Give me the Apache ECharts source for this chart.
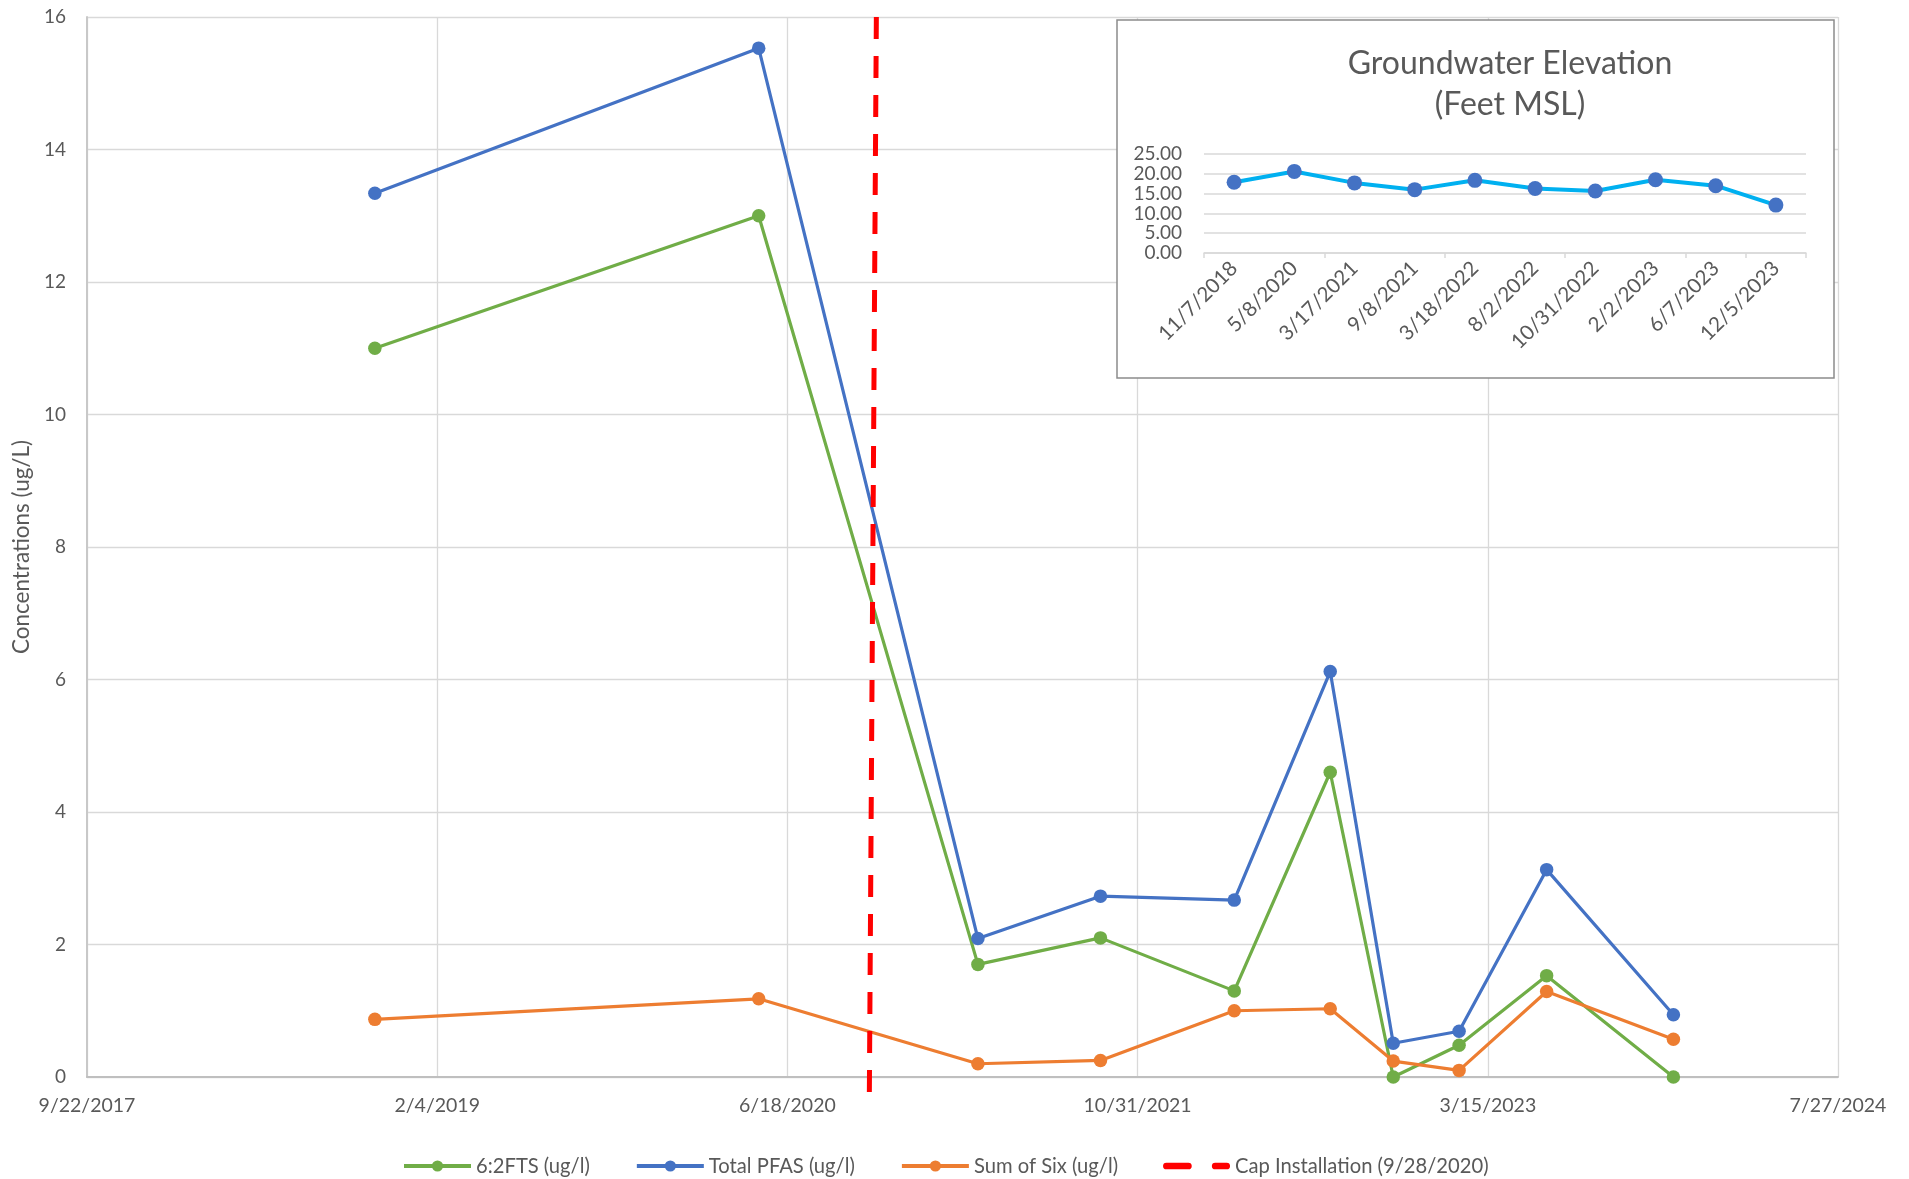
<!DOCTYPE html>
<html>
<head>
<meta charset="utf-8">
<script src="https://cdn.jsdelivr.net/npm/echarts@6/dist/echarts.min.js"></script>
<style>
  html, body { margin: 0; padding: 0; background: #ffffff; }
  #chart { width: 1909px; height: 1179px; }
</style>
</head>
<body>
<div id="chart"></div>
<script>
// ---------- data ----------
const sampleDates = ['11/7/2018','5/8/2020','3/17/2021','9/8/2021','3/18/2022','8/2/2022','10/31/2022','2/2/2023','6/7/2023','12/5/2023'];
const fts62     = [11.0, 13.0, 1.70, 2.10, 1.30, 4.60, 0.00, 0.48, 1.53, 0.00];
const totalPfas = [13.34, 15.53, 2.09, 2.73, 2.67, 6.12, 0.51, 0.69, 3.13, 0.94];
const sumOfSix  = [0.87, 1.18, 0.20, 0.25, 1.00, 1.03, 0.24, 0.10, 1.29, 0.57];
const capDates  = ['10/23/2020', '10/13/2020'];
const capValues = [16, -0.26];
const gwDates   = ['11/7/2018','5/8/2020','3/17/2021','9/8/2021','3/18/2022','8/2/2022','10/31/2022','2/2/2023','6/7/2023','12/5/2023'];
const gwElev    = [17.85, 20.6, 17.7, 16.0, 18.35, 16.3, 15.65, 18.5, 17.0, 12.1];
const xTickMin = 43000, xTickMax = 45500, xTickStep = 500;   // Excel serial dates (9/22/2017 .. 7/27/2024)
const yTicks = { min: 0, max: 16, step: 2 };
const gwTicks = { min: 0, max: 25, step: 5 };
const seriesNames = ['6:2FTS (ug/l)', 'Total PFAS (ug/l)', 'Sum of Six (ug/l)', 'Cap Installation (9/28/2020)'];

// ---------- helpers ----------
const EPOCH = Date.UTC(1899, 11, 30);
function toSerial(s) {
  const [m, d, y] = s.split('/').map(Number);
  return (Date.UTC(y, m - 1, d) - EPOCH) / 864e5;
}
function serialToLabel(v) {
  const d = new Date(EPOCH + v * 864e5);
  return (d.getUTCMonth() + 1) + '/' + d.getUTCDate() + '/' + d.getUTCFullYear();
}
function pairs(dates, vals) { return dates.map((d, i) => [toSerial(d), vals[i]]); }

const FONT = 'Lato';
const TXT = '#595959';
const GRID = '#d9d9d9';

const chart = echarts.init(document.getElementById('chart'), null, { renderer: 'canvas' });

const lineSeries = (name, color, vals) => ({
  name, type: 'line', xAxisIndex: 0, yAxisIndex: 0,
  data: pairs(sampleDates, vals),
  symbol: 'circle', symbolSize: 13.5, showSymbol: true,
  lineStyle: { color, width: 3.2 },
  itemStyle: { color },
  emphasis: { disabled: true },
  z: 3
});

const option = {
  animation: false,
  backgroundColor: '#ffffff',
  textStyle: { fontFamily: FONT },
  grid: [
    { left: 87, right: 71, top: 17, bottom: 102, containLabel: false, outerBoundsMode: 'none' },
    { left: 1204, top: 154, width: 602, height: 99, containLabel: false, outerBoundsMode: 'none', z: 20 }
  ],
  legend: {
    left: 402, top: 1156, padding: 0,
    itemWidth: 67, itemHeight: 14, itemGap: 45,
    lineStyle: { width: 4 },
    textStyle: { fontFamily: FONT, fontSize: 20.2, color: TXT },
    data: [
      { name: seriesNames[0] },
      { name: seriesNames[1] },
      { name: seriesNames[2] },
      { name: seriesNames[3], icon: 'path://M3,0 h23 a3.5,3.5 0 0 1 0,7 h-23 a3.5,3.5 0 0 1 0,-7 z M54,0 h12 a3.5,3.5 0 0 1 0,7 h-12 a3.5,3.5 0 0 1 0,-7 z' }
    ]
  },
  xAxis: [
    {
      type: 'value', gridIndex: 0,
      min: xTickMin, max: xTickMax, interval: xTickStep,
      axisLine: { show: true, onZero: false, lineStyle: { color: '#bfbfbf', width: 2 } },
      axisTick: { show: false },
      axisLabel: { formatter: serialToLabel, fontFamily: FONT, fontSize: 19.5, color: TXT, margin: 19, showMinLabel: true, showMaxLabel: true },
      splitLine: { show: true, lineStyle: { color: GRID, width: 1.3 } }
    },
    {
      type: 'category', gridIndex: 1, data: gwDates, boundaryGap: true, z: 20,
      axisLine: { show: true, lineStyle: { color: GRID, width: 1.5 } },
      axisTick: { show: true, length: 5, interval: 1, lineStyle: { color: GRID, width: 1.5 } },
      axisLabel: { interval: 0, rotate: 45, fontFamily: FONT, fontSize: 20.5, color: TXT, margin: 12 },
      splitLine: { show: false }
    }
  ],
  yAxis: [
    {
      type: 'value', gridIndex: 0,
      min: yTicks.min, max: yTicks.max, interval: yTicks.step,
      name: 'Concentrations (ug/L)', nameLocation: 'middle', nameGap: 53,
      nameTextStyle: { fontFamily: FONT, fontSize: 22.5, color: TXT },
      axisLine: { show: true, lineStyle: { color: '#c8c8c8', width: 2 } },
      axisTick: { show: false },
      axisLabel: { fontFamily: FONT, fontSize: 19, color: TXT, margin: 21 },
      splitLine: { show: true, lineStyle: { color: GRID, width: 1.3 } }
    },
    {
      type: 'value', gridIndex: 1, z: 20,
      min: gwTicks.min, max: gwTicks.max, interval: gwTicks.step,
      axisLine: { show: false },
      axisTick: { show: false },
      axisLabel: {
        formatter: v => v.toFixed(2), fontFamily: FONT, fontSize: 19,
        color: TXT, margin: 22, showMinLabel: true, showMaxLabel: true
      },
      splitLine: { show: true, lineStyle: { color: GRID, width: 1.5 } }
    }
  ],
  graphic: [
    {
      type: 'rect', z: 10, silent: true,
      shape: { x: 1117, y: 20, width: 717, height: 358 },
      style: { fill: '#ffffff', stroke: '#8c8c8c', lineWidth: 1.5 }
    },
    {
      type: 'text', z: 30, silent: true, x: 1510, y: 43,
      style: {
        text: 'Groundwater Elevation\n(Feet MSL)',
        fontFamily: FONT, fontSize: 32, lineHeight: 41,
        fill: TXT, align: 'center', verticalAlign: 'top'
      }
    }
  ],
  series: [
    lineSeries(seriesNames[0], '#70ad47', fts62),
    lineSeries(seriesNames[1], '#4472c4', totalPfas),
    lineSeries(seriesNames[2], '#ed7d31', sumOfSix),
    {
      name: seriesNames[3], type: 'line', xAxisIndex: 0, yAxisIndex: 0,
      data: pairs(capDates, capValues),
      symbol: 'none', clip: false,
      lineStyle: { color: '#ff0000', width: 5, type: [22, 17] },
      itemStyle: { color: '#ff0000' },
      emphasis: { disabled: true },
      z: 4
    },
    {
      name: 'Groundwater Elevation', type: 'line', xAxisIndex: 1, yAxisIndex: 1,
      data: gwElev,
      symbol: 'circle', symbolSize: 15,
      lineStyle: { color: '#00b0f0', width: 4 },
      itemStyle: { color: '#4472c4' },
      emphasis: { disabled: true },
      z: 25
    }
  ]
};

chart.setOption(option);
</script>
</body>
</html>
